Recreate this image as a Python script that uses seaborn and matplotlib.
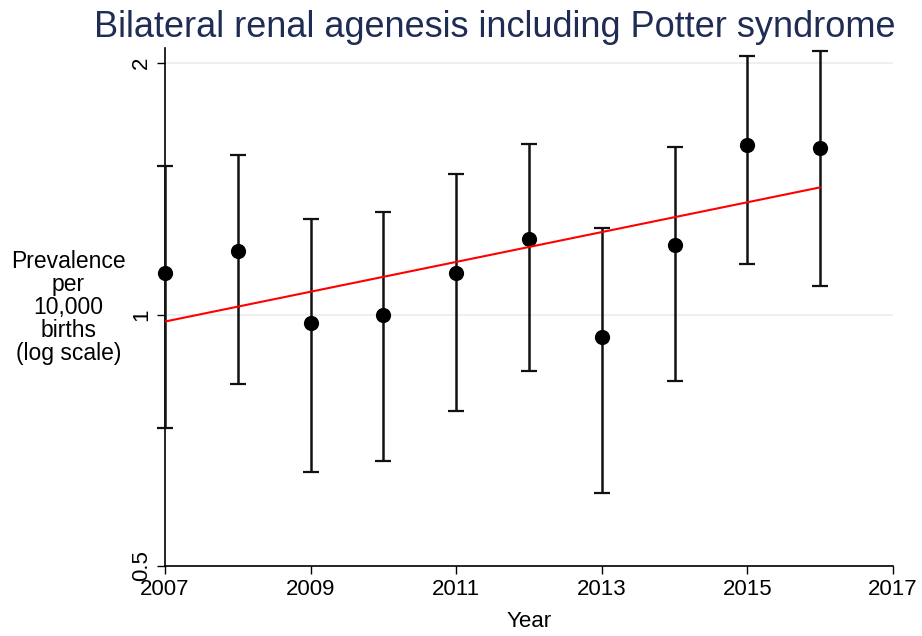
import matplotlib
matplotlib.use("Agg")
import matplotlib.pyplot as plt
import matplotlib.ticker as mticker
import seaborn as sns
import pandas as pd

# data
years = [2007, 2008, 2009, 2010, 2011, 2012, 2013, 2014, 2015, 2016]
prevalence = [1.120, 1.190, 0.976, 1.000, 1.120, 1.230, 0.941, 1.210, 1.595, 1.582]
ci_low = [0.732, 0.826, 0.648, 0.668, 0.767, 0.857, 0.612, 0.833, 1.151, 1.083]
ci_high = [1.505, 1.551, 1.300, 1.325, 1.472, 1.599, 1.268, 1.586, 2.039, 2.068]
trend_years = [2007, 2016]
trend_vals = [0.981, 1.420]

df = pd.DataFrame({"Year": years, "prev": prevalence, "lo": ci_low, "hi": ci_high})
trend = pd.DataFrame({"Year": trend_years, "fit": trend_vals})

sns.set_style("white", {"text.color": "black", "axes.labelcolor": "black",
                        "xtick.color": "black", "ytick.color": "black"})
plt.rcParams["font.family"] = ["Liberation Sans", "DejaVu Sans"]

fig = plt.figure(figsize=(9.22, 6.36), dpi=100)
ax = fig.add_axes([0.179, 0.110, 0.7895, 0.8145])

ax.set_yscale("log")
for y in [0.5, 1, 2]:
    ax.axhline(y, color="#e6eef1", lw=1.2, zorder=0)

eb = ax.errorbar(df["Year"], df["prev"],
                 yerr=[df["prev"] - df["lo"], df["hi"] - df["prev"]],
                 fmt="none", ecolor="#111111", elinewidth=1.8, capsize=5.5, capthick=1.6,
                 zorder=3)
for part in eb.lines[1] + eb.lines[2]:
    part.set_clip_on(False)
sns.scatterplot(data=df, x="Year", y="prev", color="black", s=120, edgecolor="black",
                linewidth=0, ax=ax, zorder=4, clip_on=False)
sns.lineplot(data=trend, x="Year", y="fit", color="red", lw=1.5, ax=ax, zorder=5)

ax.set_xlim(2007, 2017)
ax.set_ylim(0.5, 2.085)
ax.set_xticks([2007, 2009, 2011, 2013, 2015, 2017])
ax.yaxis.set_major_locator(mticker.FixedLocator([0.5, 1, 2]))
ax.yaxis.set_minor_locator(mticker.NullLocator())
ax.set_yticklabels(["0.5", "1", "2"], rotation=90, va="center")
ax.tick_params(axis="both", which="major", length=6, width=1, color="black",
               labelcolor="black", labelsize=16, direction="out", left=True, bottom=True)

for s in ["top", "right"]:
    ax.spines[s].set_visible(False)
for s in ["left", "bottom"]:
    ax.spines[s].set_color("black")
    ax.spines[s].set_linewidth(1.2)

ax.set_xlabel("Year", fontsize=16, labelpad=8, color="black")
ax.set_ylabel("Prevalence\nper\n10,000\nbirths\n(log scale)", fontsize=16.5, color="black",
              rotation=0, ha="center", va="center", labelpad=0, linespacing=1.0)
ax.yaxis.set_label_coords(-0.133, 0.5)

fig.text(0.537, 0.957, "Bilateral renal agenesis including Potter syndrome",
         ha="center", va="center", fontsize=26, color="#1f2d55")

fig.savefig("out.png", dpi=100)
